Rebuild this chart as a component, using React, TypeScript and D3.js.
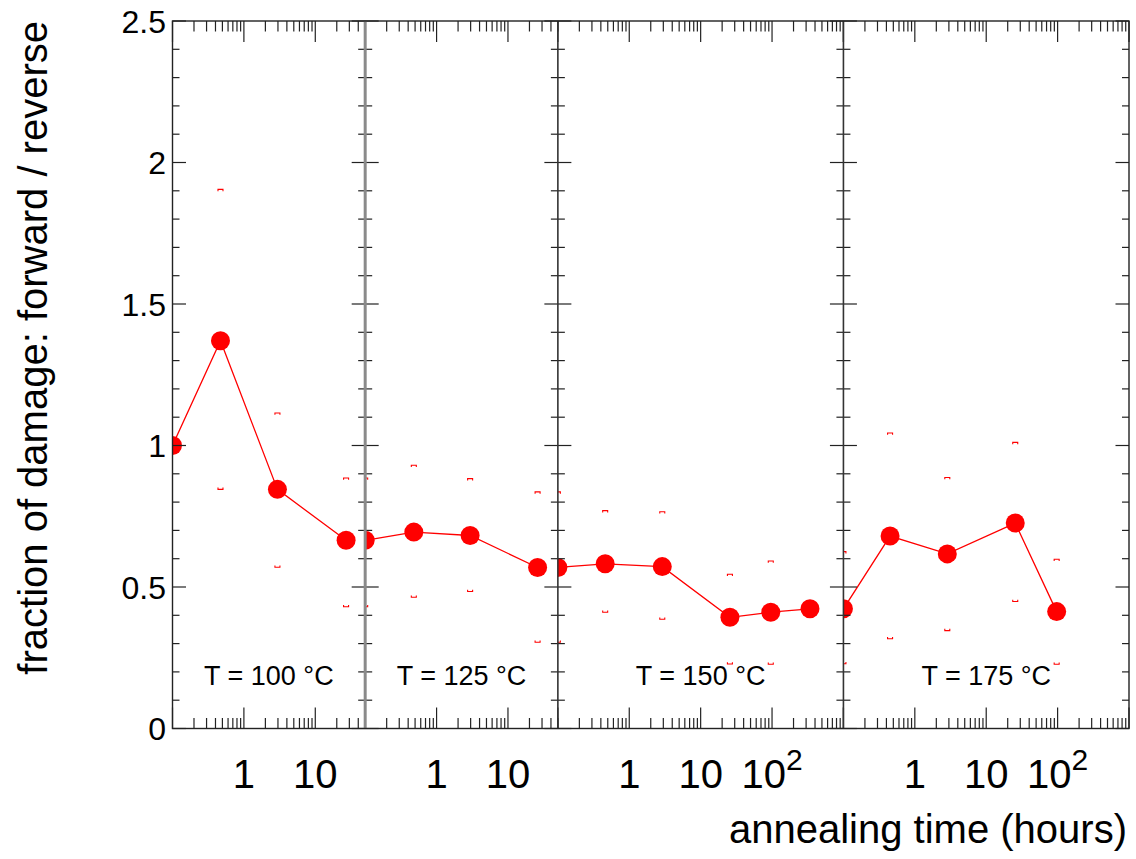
import React from "react";
import * as d3 from "d3";

// ---------- data ----------
const panelLabels = ["T = 100 °C", "T = 125 °C", "T = 150 °C", "T = 175 °C"];
const panelMaxTime = [50, 50, 1000, 1000];
const panelMinTime = [0.1, 0.1, 0.1, 0.1];

const times100 = [0.1, 0.47, 2.95, 27];
const values100 = [1.0, 1.37, 0.845, 0.665];
const errHi100 = [NaN, 1.905, 1.115, 0.885];
const errLo100 = [NaN, 0.845, 0.57, 0.43];

const times125 = [0.1, 0.48, 2.95, 26];
const values125 = [0.665, 0.694, 0.682, 0.569];
const errHi125 = [0.885, 0.93, 0.883, 0.836];
const errLo125 = [0.43, 0.464, 0.484, 0.305];

const times150 = [0.1, 0.46, 2.9, 25.7, 96, 340];
const values150 = [0.569, 0.582, 0.572, 0.393, 0.411, 0.423];
const errHi150 = [0.836, 0.77, 0.766, 0.545, 0.592, NaN];
const errLo150 = [0.305, 0.411, 0.386, 0.228, 0.227, NaN];

const times175 = [0.1, 0.45, 2.85, 25.5, 97];
const values175 = [0.423, 0.68, 0.617, 0.726, 0.413];
const errHi175 = [0.625, 1.044, 0.887, 1.011, 0.598];
const errLo175 = [0.229, 0.317, 0.346, 0.449, 0.227];

const yTickValues = [0, 0.5, 1, 1.5, 2, 2.5];
const yTickTexts = ["0", "0.5", "1", "1.5", "2", "2.5"];
const xTickValues = [1, 10, 100];
const xTickBases = ["1", "10", "10"];
const xTickExps = ["", "", "2"];

const yTitle = "fraction of damage: forward / reverse";
const xTitle = "annealing time (hours)";

// ---------- layout ----------
const W = 1136;
const H = 859;
const frameLeft = 172.5;
const frameRight = 1129;
const frameTop = 21;
const frameBottom = 728.5;
const FONT = "'Liberation Sans', Arial, Helvetica, sans-serif";
const RED = "#ff0000";

const series = [
  { t: times100, v: values100, hi: errHi100, lo: errLo100 },
  { t: times125, v: values125, hi: errHi125, lo: errLo125 },
  { t: times150, v: values150, hi: errHi150, lo: errLo150 },
  { t: times175, v: values175, hi: errHi175, lo: errLo175 },
];

export default function App() {
  const y = d3.scaleLinear().domain([0, 2.5]).range([frameBottom, frameTop]);

  const spans = panelMaxTime.map((m, i) => Math.log10(m) - Math.log10(panelMinTime[i]));
  const totalSpan = d3.sum(spans);
  const decade = (frameRight - frameLeft) / totalSpan;
  const edges: number[] = [frameLeft];
  spans.forEach((s) => edges.push(edges[edges.length - 1] + s * decade));

  const panels = panelLabels.map((label, i) => {
    const x = d3
      .scaleLog()
      .domain([panelMinTime[i], panelMaxTime[i]])
      .range([edges[i], edges[i + 1]]);
    return { label, x, x0: edges[i], x1: edges[i + 1], s: series[i] };
  });

  const yMinor = d3.range(0, 26).map((k) => k / 10);

  const line = (s: any, x: any) =>
    d3
      .line<number>()
      .x((_, j) => x(s.t[j]))
      .y((d) => y(d))(s.v);

  return (
    <svg
      width={W}
      height={H}
      style={{ position: "absolute", left: 0, top: 0, background: "#fff" }}
      fontFamily={FONT}
    >
      <rect x={0} y={0} width={W} height={H} fill="#fff" />
      <defs>
        {panels.map((p, i) => (
          <clipPath id={`clip${i}`} key={i}>
            <rect x={p.x0} y={frameTop} width={p.x1 - p.x0} height={frameBottom - frameTop} />
          </clipPath>
        ))}
      </defs>

      {/* data */}
      {panels.map((p, i) => (
        <g key={`d${i}`} clipPath={`url(#clip${i})`}>
          <path d={line(p.s, p.x) || ""} fill="none" stroke={RED} strokeWidth={1.3} />
          {p.s.t.map((t: number, j: number) => {
            const cx = p.x(t);
            const hi = p.s.hi[j];
            const lo = p.s.lo[j];
            return (
              <g key={j}>
                {!isNaN(hi) && (
                  <path
                    d={`M${cx - 2.5},${y(hi) + 1.8}L${cx - 2.5},${y(hi)}L${cx + 2.5},${y(hi)}L${cx + 2.5},${y(hi) + 1.8}`}
                    fill="none"
                    stroke={RED}
                    strokeWidth={1.1}
                  />
                )}
                {!isNaN(lo) && (
                  <path
                    d={`M${cx - 2.5},${y(lo) - 1.8}L${cx - 2.5},${y(lo)}L${cx + 2.5},${y(lo)}L${cx + 2.5},${y(lo) - 1.8}`}
                    fill="none"
                    stroke={RED}
                    strokeWidth={1.1}
                  />
                )}
                <circle cx={cx} cy={y(p.s.v[j])} r={9.5} fill={RED} />
              </g>
            );
          })}
        </g>
      ))}

      {/* panel labels */}
      {panels.map((p, i) => (
        <text
          key={`l${i}`}
          x={(p.x0 + p.x1) / 2}
          y={685}
          fontSize={27}
          textAnchor="middle"
          fill="#000"
        >
          {p.label}
        </text>
      ))}

      {/* x ticks per panel */}
      {panels.map((p, i) => {
        const ticks = p.x.ticks();
        return (
          <g key={`xt${i}`} stroke="#222" strokeWidth={1.2}>
            {ticks.map((t: number, j: number) => {
              const xx = p.x(t);
              const major = Math.abs(Math.log10(t) - Math.round(Math.log10(t))) < 1e-6;
              const len = major ? 21 : 10.5;
              return (
                <g key={j}>
                  <line x1={xx} x2={xx} y1={frameBottom} y2={frameBottom - len} />
                  <line x1={xx} x2={xx} y1={frameTop} y2={frameTop + len} />
                </g>
              );
            })}
          </g>
        );
      })}

      {/* y ticks on left, dividers, right */}
      {yMinor.map((v, k) => {
        const major = k % 5 === 0;
        const len = major ? 13.5 : 7;
        const yy = y(v);
        return (
          <g key={`yt${k}`} stroke="#222" strokeWidth={1.2}>
            <line x1={frameLeft} x2={frameLeft + len} y1={yy} y2={yy} />
            <line x1={frameRight} x2={frameRight - len} y1={yy} y2={yy} />
            {edges.slice(1, -1).map((e, m) => (
              <line key={m} x1={e - len} x2={e + len} y1={yy} y2={yy} />
            ))}
          </g>
        );
      })}

      {/* dividers */}
      {edges.slice(1, -1).map((e, m) => (
        <line
          key={`dv${m}`}
          x1={e}
          x2={e}
          y1={frameTop}
          y2={frameBottom}
          stroke={m === 0 ? "#8a8a8a" : "#333"}
          strokeWidth={m === 0 ? 3 : 1.6}
        />
      ))}

      {/* frame */}
      <rect
        x={frameLeft}
        y={frameTop}
        width={frameRight - frameLeft}
        height={frameBottom - frameTop}
        fill="none"
        stroke="#222"
        strokeWidth={1.4}
      />

      {/* y tick labels */}
      {yTickValues.map((v, k) => (
        <text key={`yl${k}`} x={166} y={y(v) + 11.5} fontSize={32} textAnchor="end" fill="#000">
          {yTickTexts[k]}
        </text>
      ))}

      {/* x tick labels */}
      {panels.map((p, i) =>
        xTickValues.map((t, k) => {
          const [d0, d1] = p.x.domain();
          if (!(t > d0 && t < d1)) return null;
          return (
            <text
              key={`xl${i}_${k}`}
              x={p.x(t)}
              y={788}
              fontSize={40}
              textAnchor="middle"
              fill="#000"
            >
              {xTickBases[k]}
              {xTickExps[k] && (
                <tspan fontSize={30} dy={-18}>
                  {xTickExps[k]}
                </tspan>
              )}
            </text>
          );
        })
      )}

      {/* axis titles */}
      <text x={1127} y={843} fontSize={40} textAnchor="end" fill="#000">
        {xTitle}
      </text>
      <text
        transform={`translate(47, ${frameTop}) rotate(-90)`}
        fontSize={40}
        textAnchor="end"
        fill="#000"
      >
        {yTitle}
      </text>
    </svg>
  );
}
